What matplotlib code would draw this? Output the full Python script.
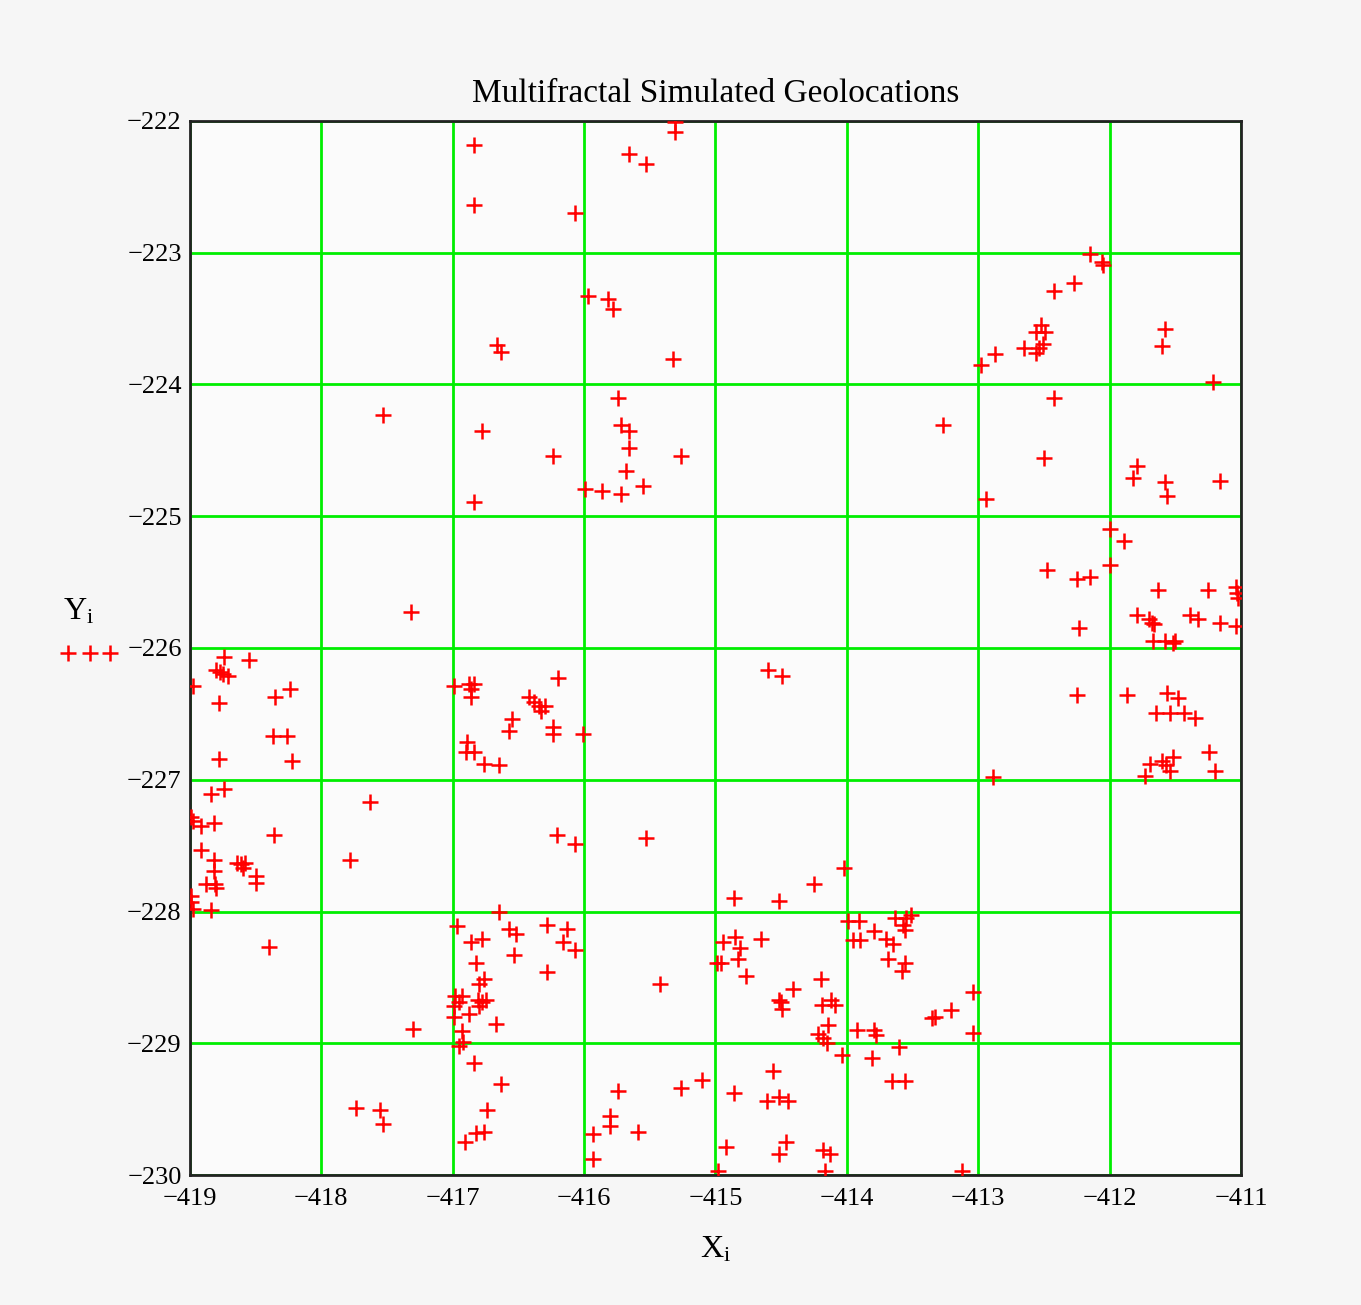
import matplotlib
matplotlib.use("Agg")
import matplotlib.pyplot as plt
from matplotlib.lines import Line2D

# simulated geolocations
x_vals = [
    # upper middle
    -416.84, -416.84, -416.07, -415.66, -415.53, -415.31, -415.31, -415.97, -415.82, -415.78,
    -416.66, -416.63, -415.32, -415.74, -415.72, -415.66, -415.66, -415.68, -415.55, -415.72,
    -415.86, -415.99, -415.26, -416.24, -416.78, -416.84, -417.53, -417.32,
    # upper right
    -412.15, -412.06, -412.05, -412.27, -412.42, -412.52, -412.56, -412.49, -412.51, -412.54,
    -412.65, -412.56, -412.87, -412.98, -411.58, -411.60, -411.21, -412.42, -413.27, -412.50,
    -412.94, -411.79, -411.82, -411.58, -411.56, -411.16, -412.00, -411.89, -412.00, -412.48,
    -412.25, -412.15, -412.23, -411.63, -411.25, -411.04, -411.03, -411.02, -411.79, -411.70,
    -411.68, -411.66, -411.39, -411.33, -411.16, -411.04, -411.67, -411.58, -411.52, -411.50,
    # lower left
    -418.74, -418.55, -418.80, -418.77, -418.75, -418.71, -418.98, -418.78, -418.35, -418.24,
    -418.37, -418.26, -418.78, -418.22, -416.99, -416.88, -416.84, -416.86, -416.86, -416.20,
    -416.42, -416.38, -416.34, -416.30, -416.33, -416.55, -416.57, -416.24, -416.24, -416.01,
    -416.89, -416.90, -416.84, -416.76, -416.65, -418.74, -418.84, -417.63, -418.99, -418.98,
    -418.92, -418.82, -418.36, -418.92, -418.82, -418.64, -418.61, -418.60, -418.58, -418.82,
    -418.50, -418.50, -418.88, -418.81, -418.80, -417.78, -418.99, -418.99, -418.98, -418.84,
    -416.21, -416.07, -415.53, -416.65, -416.97, -416.57, -416.52, -416.28, -416.13, -416.16,
    -416.07, -416.86, -416.78, -416.53, -416.82, -416.28, -416.76, -416.80, -416.98, -416.93,
    -416.95, -416.81, -416.78, -416.75, -416.80, -416.99, -416.88, -416.99, -416.67, -417.30,
    -416.93, -416.92, -416.95, -416.84, -418.40, -416.63, -416.74, -416.82, -416.76, -416.91,
    -417.74, -417.55, -417.53, -415.74, -415.80, -415.80, -415.59, -415.93, -415.93, -415.26,
    -415.10, -415.42,
    # lower right
    -414.60, -414.49, -412.25, -411.87, -411.56, -411.48, -411.65, -411.54, -411.43, -411.35,
    -411.24, -411.20, -411.69, -411.60, -411.57, -411.52, -411.54, -411.73, -412.89, -414.02,
    -414.25, -414.86, -414.52, -413.99, -413.91, -413.63, -413.55, -413.51, -413.57, -413.56,
    -413.79, -413.95, -413.90, -413.70, -413.65, -413.69, -413.56, -413.58, -414.94, -414.85,
    -414.81, -414.65, -414.99, -414.96, -414.83, -414.77, -414.20, -414.41, -414.52, -414.50,
    -414.49, -414.19, -414.12, -414.09, -414.14, -414.22, -414.18, -414.15, -413.04, -413.35,
    -413.33, -413.21, -413.04, -413.92, -413.79, -413.78, -414.04, -413.81, -413.60, -413.66,
    -413.56, -414.56, -414.86, -414.61, -414.52, -414.45, -414.92, -414.52, -414.46, -414.18,
    -414.13, -414.98, -414.17, -413.12,
]
y_vals = [
    # upper middle
    -222.18, -222.64, -222.70, -222.25, -222.33, -222.01, -222.08, -223.33, -223.35, -223.43,
    -223.70, -223.75, -223.81, -224.10, -224.31, -224.35, -224.48, -224.66, -224.77, -224.83,
    -224.81, -224.79, -224.54, -224.54, -224.35, -224.89, -224.23, -225.73,
    # upper right
    -223.01, -223.07, -223.09, -223.23, -223.29, -223.55, -223.60, -223.60, -223.69, -223.72,
    -223.72, -223.76, -223.77, -223.85, -223.58, -223.71, -223.98, -224.10, -224.31, -224.56,
    -224.87, -224.62, -224.71, -224.74, -224.85, -224.73, -225.10, -225.19, -225.37, -225.41,
    -225.48, -225.46, -225.85, -225.56, -225.56, -225.54, -225.58, -225.62, -225.75, -225.78,
    -225.81, -225.82, -225.75, -225.78, -225.81, -225.83, -225.95, -225.95, -225.96, -225.95,
    # lower left
    -226.07, -226.09, -226.17, -226.18, -226.20, -226.21, -226.29, -226.42, -226.37, -226.31,
    -226.67, -226.67, -226.84, -226.86, -226.29, -226.27, -226.27, -226.31, -226.37, -226.23,
    -226.37, -226.41, -226.44, -226.44, -226.48, -226.54, -226.63, -226.60, -226.65, -226.65,
    -226.71, -226.79, -226.79, -226.88, -226.89, -227.07, -227.11, -227.17, -227.28, -227.31,
    -227.35, -227.33, -227.42, -227.53, -227.61, -227.63, -227.64, -227.67, -227.63, -227.69,
    -227.73, -227.78, -227.79, -227.79, -227.82, -227.61, -227.88, -227.93, -227.98, -227.99,
    -227.42, -227.49, -227.44, -228.00, -228.11, -228.13, -228.17, -228.10, -228.13, -228.23,
    -228.29, -228.23, -228.21, -228.33, -228.39, -228.46, -228.51, -228.55, -228.64, -228.64,
    -228.69, -228.67, -228.69, -228.67, -228.72, -228.72, -228.78, -228.80, -228.85, -228.89,
    -228.91, -228.99, -229.02, -229.15, -228.27, -229.31, -229.51, -229.68, -229.67, -229.75,
    -229.49, -229.51, -229.61, -229.36, -229.55, -229.63, -229.67, -229.69, -229.88, -229.34,
    -229.28, -228.55,
    # lower right
    -226.17, -226.21, -226.36, -226.36, -226.34, -226.38, -226.49, -226.49, -226.49, -226.53,
    -226.79, -226.93, -226.88, -226.86, -226.89, -226.83, -226.93, -226.97, -226.98, -227.67,
    -227.79, -227.90, -227.92, -228.07, -228.07, -228.05, -228.05, -228.03, -228.10, -228.14,
    -228.15, -228.22, -228.22, -228.21, -228.25, -228.36, -228.39, -228.45, -228.23, -228.19,
    -228.28, -228.21, -228.39, -228.39, -228.36, -228.49, -228.51, -228.59, -228.67, -228.69,
    -228.74, -228.71, -228.67, -228.71, -228.86, -228.93, -228.96, -229.00, -228.61, -228.81,
    -228.80, -228.75, -228.92, -228.90, -228.90, -228.94, -229.09, -229.11, -229.03, -229.29,
    -229.29, -229.21, -229.38, -229.44, -229.41, -229.44, -229.79, -229.84, -229.75, -229.81,
    -229.84, -229.97, -229.97, -229.97,
]

x_ticks = list(range(-419, -410))
y_ticks = list(range(-230, -221))

plt.rcParams['font.family'] = ['Liberation Serif', 'DejaVu Serif']
plt.rcParams['mathtext.fontset'] = 'custom'
plt.rcParams['mathtext.rm'] = 'Liberation Serif'

fig = plt.figure(figsize=(13.61, 13.05), dpi=100, facecolor='#f6f6f6')
ax = fig.add_axes([0.1396, 0.0996, 0.7722, 0.8077])
ax.set_facecolor('#fbfbfb')

ax.plot(x_vals, y_vals, linestyle='none', marker='+', color='red',
        markersize=11, markeredgewidth=1.8, zorder=3)

ax.set_xlim(-419, -411)
ax.set_ylim(-230, -222)
ax.set_xticks(x_ticks)
ax.set_yticks(y_ticks)
ax.grid(True, color='#00ee00', linewidth=2.0)
ax.set_axisbelow(True)
ax.tick_params(length=0, labelsize=19, pad=6)
ax.tick_params(axis='x', pad=9)
for side in ax.spines.values():
    side.set_linewidth(2)
    side.set_color('#222222')

ax.set_title('Multifractal Simulated Geolocations', fontsize=24, pad=14)
ax.set_xlabel(r'$\mathregular{X_i}$', fontsize=23, labelpad=18)

# Mathcad-style y label with its trace sample underneath
fig.text(0.058, 0.531, r'$\mathregular{Y_i}$', fontsize=23, ha='center', va='center')
fig.add_artist(Line2D([0.050, 0.066, 0.081], [0.500, 0.500, 0.500], transform=fig.transFigure,
                      linestyle='none', marker='+', color='red', markersize=11, markeredgewidth=1.8))

fig.savefig('out.png', dpi=100, facecolor=fig.get_facecolor())
